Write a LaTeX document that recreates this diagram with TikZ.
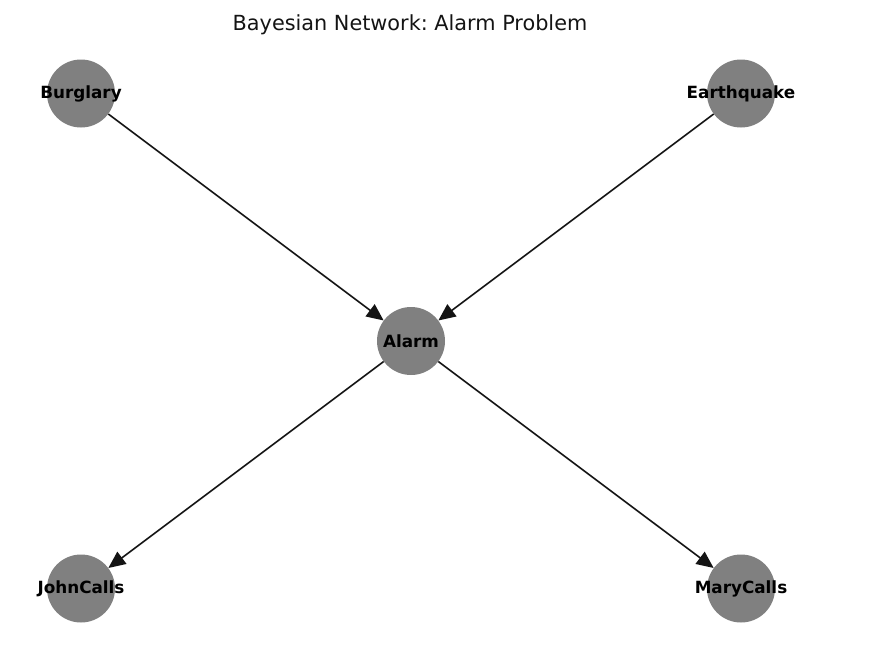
\documentclass[tikz,border=0pt]{standalone}
\usepackage{fontspec}
\setmainfont{DejaVu Sans}
\frenchspacing
\usetikzlibrary{arrows.meta}
\tikzset{
  bnode/.style={circle, fill={rgb,255:red,128;green,128;blue,128}, inner sep=0pt, minimum size=68pt},
  blabel/.style={inner sep=0pt, font=\fontsize{16.8}{18}\selectfont\bfseries, text=black},
  bedge/.style={draw={rgb,255:red,20;green,20;blue,20}, line width=1.6pt, -{Triangle[length=17pt,width=15pt]}},
  titlestyle/.style={font=\fontsize{20.8}{24}\selectfont, text={rgb,255:red,20;green,20;blue,20}, inner sep=0pt}
}
\begin{document}
\begin{tikzpicture}[x=1pt,y=-1pt]
\useasboundingbox[fill=white] (0,0) rectangle (870,645);
\node[titlestyle, anchor=base] (title) at (410,30) {Bayesian Network: Alarm Problem};
\node[bnode] (B) at (81,93.5) {};
\node[bnode] (E) at (741,93.5) {};
\node[bnode] (A) at (411,341) {};
\node[bnode] (J) at (81,588.5) {};
\node[bnode] (M) at (741,588.5) {};
\node[blabel] (Bl) at (B) {Burglary};
\node[blabel] (El) at (E) {Earthquake};
\node[blabel] (Al) at (A) {Alarm};
\node[blabel] (Jl) at (J) {JohnCalls};
\node[blabel] (Ml) at (M) {MaryCalls};
\draw[bedge] (B) -- (A);
\draw[bedge] (E) -- (A);
\draw[bedge] (A) -- (J);
\draw[bedge] (A) -- (M);
\end{tikzpicture}
\end{document}
